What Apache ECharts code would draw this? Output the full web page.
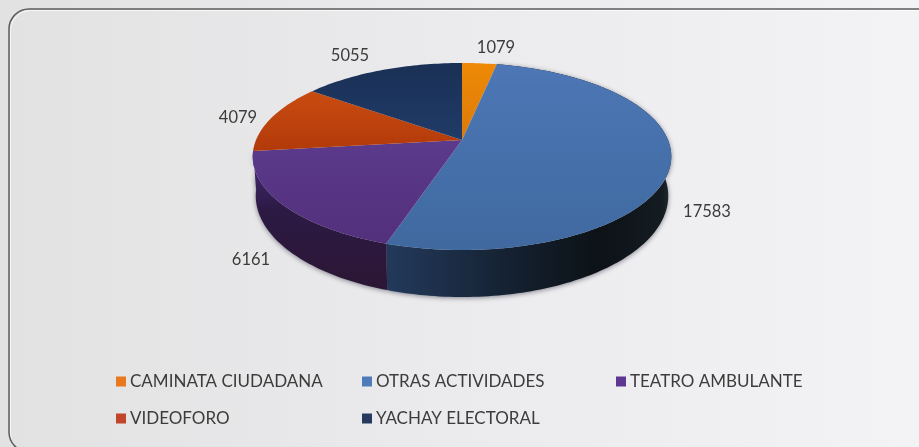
<!DOCTYPE html>
<html>
<head>
<meta charset="utf-8">
<style>html,body{margin:0;padding:0;background:#eee}#c{width:919px;height:447px}</style>
<script src="https://cdn.jsdelivr.net/npm/echarts@6/dist/echarts.min.js"></script>
</head>
<body>
<div id="c"></div>
<script>
const categories = ['CAMINATA CIUDADANA', 'OTRAS ACTIVIDADES', 'TEATRO AMBULANTE', 'VIDEOFORO', 'YACHAY ELECTORAL'];
const values = [1079, 17583, 6161, 4079, 5055];
const topColors = [
  ['#ee8a06', '#dc7a0a'],
  ['#4d77b5', '#3f699f'],
  ['#5c3a8c', '#52307c'],
  ['#c94c10', '#b23a0a'],
  ['#1a3055', '#203b68']
];
const legendColors = ['#e8791e', '#4f7cb8', '#5f3790', '#c0452a', '#27395f'];
const wallStops = [
  [[0, '#8a4a08'], [1, '#7a4006']],
  [[0, '#233a5c'], [0.45, '#14202f'], [0.75, '#0c1216'], [0.97, '#141c22'], [1, '#262e34']],
  [[0, '#54337f'], [0.2, '#3c2462'], [0.42, '#2c1a44'], [1, '#2c1634']],
  [[0, '#5c3088'], [1, '#5c3088']],
  [[0, '#12213a'], [1, '#12213a']]
];
const wallDirs = [[1, 0], [1, 0], [0, 1], [1, 0], [1, 0]];
const labelSpots = [[496, 48], [707, 212], [251, 260], [238, 118], [350, 56]];
const legendSpots = [[116, 373], [362, 373], [616, 373], [116, 410], [362, 410]];

const total = values.reduce((a, b) => a + b, 0);
const K = 0.1765;
const TOP = { x: 462, y: 140, a: 206, b: 90.6 };
const BOT = { x: 462, y: 178, a: 203, b: 98 };
function project(p, t) {
  const w = 1 + K * Math.cos(t);
  return [p.x + p.a * Math.sin(t) / w, p.y - p.b * Math.cos(t) / w];
}
function arc(p, a0, a1) {
  const pts = [], n = Math.max(2, Math.ceil((a1 - a0) / 0.02));
  for (let i = 0; i <= n; i++) pts.push(project(p, a0 + (a1 - a0) * i / n));
  return pts;
}
function bounds(i) {
  let s = 0;
  for (let j = 0; j < i; j++) s += values[j];
  return [s / total * 2 * Math.PI, (s + values[i]) / total * 2 * Math.PI];
}
const series = categories.map((name, i) => ({
  type: 'custom',
  name,
  coordinateSystem: 'none',
  data: [values[i]],
  itemStyle: { color: legendColors[i] },
  silent: true,
  animation: false,
  renderItem() {
    const [a0, a1] = bounds(i);
    const rim = arc(TOP, a0, a1);
    const base = arc(BOT, a0, a1).reverse();
    const d = wallDirs[i];
    const front = i === 1 || i === 2;
    const children = [
      {
        type: 'polygon', z2: 2,
        shape: { points: [[TOP.x, TOP.y]].concat(rim) },
        style: {
          fill: new echarts.graphic.LinearGradient(0, 0, 0, 1, [
            { offset: 0, color: topColors[i][0] },
            { offset: 1, color: topColors[i][1] }
          ])
        }
      },
      {
        type: 'text', z2: 3, x: labelSpots[i][0], y: labelSpots[i][1],
        style: {
          text: String(values[i]), fill: '#3c3c3c',
          font: '16.5px Lato', align: 'center', verticalAlign: 'middle'
        }
      }
    ];
    if (front) {
      children.unshift({
        type: 'polygon', z2: 1,
        shape: { points: rim.concat(base) },
        style: {
          fill: new echarts.graphic.LinearGradient(0, 0, d[0], d[1],
            wallStops[i].map(s => ({ offset: s[0], color: s[1] }))),
          shadowColor: 'rgba(40,40,60,0.55)', shadowBlur: 5, shadowOffsetY: 1
        }
      });
    }
    return { type: 'group', children };
  }
}));

const chart = echarts.init(document.getElementById('c'), null, { renderer: 'canvas' });
chart.setOption({
  animation: false,
  backgroundColor: new echarts.graphic.LinearGradient(0, 0, 1, 0, [
    { offset: 0, color: '#e2e2e3' },
    { offset: 0.5, color: '#ebebed' },
    { offset: 1, color: '#f3f3f5' }
  ]),
  legend: categories.map((name, i) => ({
    data: [name],
    left: legendSpots[i][0],
    top: legendSpots[i][1],
    padding: 0,
    icon: 'rect',
    itemWidth: 10,
    itemHeight: 10,
    selectedMode: false,
    textStyle: { color: '#3c3c3c', fontFamily: 'Lato', fontSize: 17, padding: [0, 0, 0, -1] }
  })),
  graphic: [{
    type: 'rect', silent: true, z: -1,
    shape: { x: 10.5, y: 10.5, width: 1000, height: 443, r: 20 },
    style: { fill: 'none', stroke: 'rgba(255,255,255,0.7)', lineWidth: 1 }
  }, {
    type: 'rect', silent: true, z: -1,
    shape: { x: 9, y: 9, width: 1000, height: 443, r: 20 },
    style: { fill: 'none', stroke: '#5c5c5c', lineWidth: 1.5 }
  }],
  series
});
</script>
</body>
</html>
